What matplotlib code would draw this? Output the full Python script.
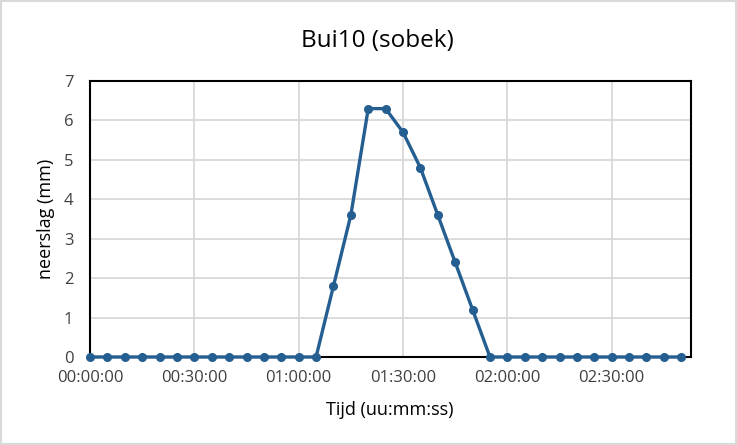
import matplotlib.pyplot as plt
from matplotlib.ticker import FuncFormatter, MultipleLocator

plt.rcParams['font.family'] = ['Open Sans', 'DejaVu Sans']

# tijd in minuten, neerslag in mm
tijd_min = [5 * i for i in range(35)]
neerslag = [0, 0, 0, 0, 0, 0, 0, 0, 0, 0, 0, 0, 0, 0,
             1.8, 3.6, 6.3, 6.3, 5.7, 4.8, 3.6, 2.4, 1.2, 0,
             0, 0, 0, 0, 0, 0, 0, 0, 0, 0, 0]
x_ticks = [0, 30, 60, 90, 120, 150]
x_max = 172.8  # 0.12 dag

line_color = '#255e91'
W, H = 737, 445

fig = plt.figure(figsize=(W / 100, H / 100), dpi=100)
ax = fig.add_axes([90 / W, 1 - 357 / H, 601 / W, 276 / H])

ax.plot(tijd_min, neerslag, color=line_color, lw=2.4, marker='o', ms=5.5,
        zorder=3, clip_on=False)

ax.set_xlim(0, x_max)
ax.set_ylim(0, 7)
ax.set_xticks(x_ticks)
ax.xaxis.set_major_formatter(FuncFormatter(
    lambda v, p: f"{int(v // 60):02d}:{int(v % 60):02d}:00"))
ax.yaxis.set_major_locator(MultipleLocator(1))
ax.grid(True, color='#d9d9d9', lw=1.3, zorder=0)
ax.tick_params(length=0, labelsize=12, colors='#404040')
ax.tick_params(axis='x', pad=9)
ax.tick_params(axis='y', pad=12)
for s in ax.spines.values():
    s.set_color('black')
    s.set_linewidth(1.5)

fig.text(377 / W, 1 - 41 / H, 'Bui10 (sobek)', fontsize=17.5,
         color='black', ha='center', va='center')
fig.text(390 / W, 1 - 410 / H, 'Tijd (uu:mm:ss)', fontsize=13,
         color='black', ha='center', va='center')
fig.text(46 / W, 1 - 219 / H, 'neerslag (mm)', fontsize=13, rotation=90,
         color='black', ha='center', va='center')

# rand rond de figuur
fig.patches.append(plt.Rectangle((0.002, 0.002), 0.996, 0.996,
                                 transform=fig.transFigure, fill=False,
                                 edgecolor='#d9d9d9', lw=1.5))

plt.savefig('out.png', dpi=100)
